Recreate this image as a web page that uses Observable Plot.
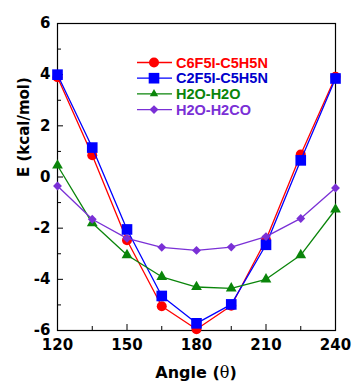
<!DOCTYPE html>
<html><head><meta charset="utf-8">
<script src="https://cdn.jsdelivr.net/npm/d3@7"></script>
<script src="https://cdn.jsdelivr.net/npm/@observablehq/plot@0.6"></script>
<style>body{margin:0;background:#fff}</style>
</head><body><div id="chart"></div>
<script>
// ---- data ----
const angles = [120, 135, 150, 165, 180, 195, 210, 225, 240];
const c6f5iC5h5n = [3.9, 0.85, -2.47, -5.05, -5.95, -5.03, -2.45, 0.88, 3.92];
const c2f5iC5h5n = [4.0, 1.15, -2.05, -4.65, -5.72, -4.98, -2.65, 0.65, 3.85];
const h2oH2o     = [0.45, -1.8, -3.05, -3.9, -4.3, -4.35, -4.0, -3.05, -1.27];
const h2oH2co    = [-0.35, -1.65, -2.4, -2.75, -2.87, -2.74, -2.33, -1.62, -0.43];
const seriesNames = ["C6F5I-C5H5N", "C2F5I-C5H5N", "H2O-H2O", "H2O-H2CO"];
const seriesValues = [c6f5iC5h5n, c2f5iC5h5n, h2oH2o, h2oH2co];
const seriesColors = ["#ff0000", "#0000ff", "#0a850a", "#7a30d6"];
const textColors = ["#ff0000", "#0000cc", "#0a850a", "#7a30d6"];
const seriesSymbols = ["circle", "square", "triangle", "diamond2"];
const seriesR = [5, 6, 4, 4];
const xTicksMajor = [120, 150, 180, 210, 240];
const xTicksMinor = [135, 165, 195, 225];
const yTicksMajor = [-6, -4, -2, 0, 2, 4, 6];
const yTicksMinor = [-5, -3, -1, 1, 3, 5];
const xTitle = "Angle (";
const xTitleSym = "θ";
const yTitle = "E (kcal/mol)";

// ---- layout ----
const W = 352, H = 381, mL = 57, mR = 17, mT = 23, mB = 51;
const innerW = W - mL - mR, innerH = H - mT - mB;

const rows = [];
seriesValues.forEach((vals, i) => vals.forEach((v, j) => rows.push({series: seriesNames[i], angle: angles[j], E: v})));

const seriesMarks = [];
seriesNames.forEach((name, i) => {
  const d = rows.filter(r => r.series === name);
  seriesMarks.push(Plot.line(d, {x: "angle", y: "E", stroke: seriesColors[i], strokeWidth: 1.3}));
  seriesMarks.push(Plot.dot(d, {x: "angle", y: "E", symbol: () => seriesSymbols[i], fill: seriesColors[i], stroke: "none", r: seriesR[i]}));
});

const tickFont = {fontFamily: "DejaVu Sans, sans-serif", fontWeight: "bold", fontSize: 15};

const plot = Plot.plot({
  width: W, height: H,
  marginLeft: mL, marginRight: mR, marginTop: mT, marginBottom: mB,
  style: {background: "white", color: "black", overflow: "visible"},
  symbol: {type: "identity"},
  x: {domain: [120, 240]},
  y: {domain: [-6, 6]},
  marks: [
    Plot.ruleX(xTicksMajor, {x: d => d, insetTop: innerH - 6, stroke: "black"}),
    Plot.ruleX(xTicksMinor, {x: d => d, insetTop: innerH - 4, stroke: "black"}),
    Plot.ruleY(yTicksMajor, {y: d => d, insetRight: innerW - 6, stroke: "black"}),
    Plot.ruleY(yTicksMinor, {y: d => d, insetRight: innerW - 4, stroke: "black"}),
    Plot.frame({stroke: "black", strokeWidth: 1.2}),
    Plot.axisX(xTicksMajor, {tickSize: 0, tickPadding: 9, label: null, tickFormat: d => String(d), ...tickFont}),
    Plot.axisY(yTicksMajor, {tickSize: 0, tickPadding: 7, label: null, tickFormat: d => String(d), ...tickFont}),
    Plot.text([yTitle], {frameAnchor: "left", rotate: -90, dx: -33, dy: 0, fontFamily: "DejaVu Sans, sans-serif", fontWeight: "bold", fontSize: 15, fill: "black"}),
    ...seriesMarks
  ]
});
document.getElementById("chart").appendChild(plot);

// x axis title with serif theta
const svg = d3.select(plot);
const xt = svg.append("text")
  .attr("x", mL + innerW / 2).attr("y", 378)
  .attr("text-anchor", "middle")
  .attr("font-family", "DejaVu Sans, sans-serif").attr("font-weight", "bold").attr("font-size", 16)
  .attr("fill", "black");
xt.append("tspan").text(xTitle);
xt.append("tspan").attr("font-family", "DejaVu Serif, serif").attr("font-weight", "normal").text(xTitleSym);
xt.append("tspan").text(")");

// legend
const symMap = {circle: d3.symbolCircle, square: d3.symbolSquare, triangle: d3.symbolTriangle2, diamond2: d3.symbolDiamond2};
const lg = svg.append("g");
const lx0 = 137, lx1 = 172, lmx = 154, ltx = 176, ly0 = 62.5, ldy = 15.7;
seriesNames.forEach((name, i) => {
  const y = ly0 + i * ldy;
  lg.append("line").attr("x1", lx0).attr("x2", lx1).attr("y1", y).attr("y2", y)
    .attr("stroke", seriesColors[i]).attr("stroke-width", 1.3);
  lg.append("path").attr("transform", `translate(${lmx},${y})`)
    .attr("d", d3.symbol(symMap[seriesSymbols[i]], Math.PI * seriesR[i] * seriesR[i])())
    .attr("fill", seriesColors[i]);
  lg.append("text").attr("x", ltx).attr("y", y).attr("dy", "0.36em")
    .attr("text-anchor", "start")
    .attr("font-family", "Liberation Sans, Arial, sans-serif").attr("font-weight", "bold").attr("font-size", 14.5)
    .attr("fill", textColors[i]).text(name);
});
</script>
</body></html>
